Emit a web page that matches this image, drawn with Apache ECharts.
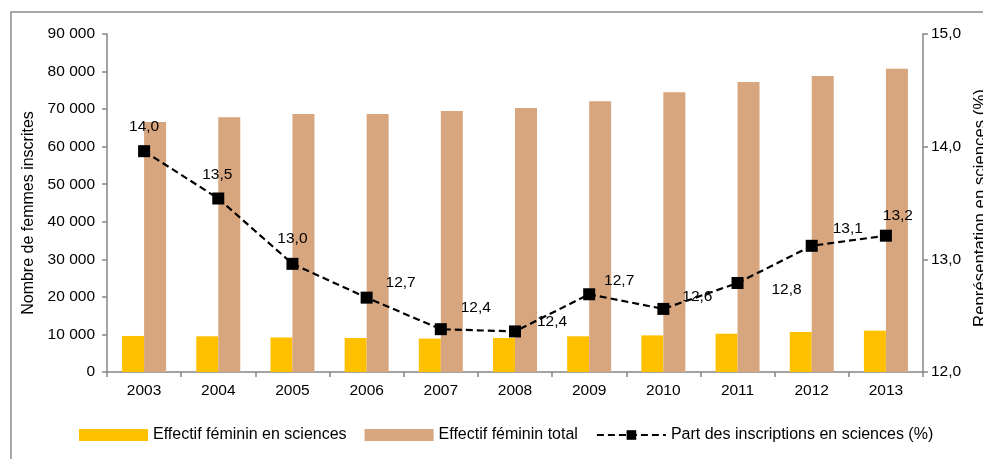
<!DOCTYPE html>
<html>
<head>
<meta charset="utf-8">
<script src="https://cdn.jsdelivr.net/npm/echarts@6/dist/echarts.min.js"></script>
<style>html,body{margin:0;padding:0;background:#fff;}#c{width:983px;height:459px;}</style>
</head>
<body>
<div id="c"></div>
<script>
var years = ['2003','2004','2005','2006','2007','2008','2009','2010','2011','2012','2013'];
var effectifSciences = [9600, 9500, 9200, 9050, 8900, 9050, 9500, 9750, 10200, 10650, 11000];
var effectifTotal = [66600, 67800, 68700, 68700, 69500, 70300, 72100, 74500, 77200, 78800, 80750];
var partSciences = [13.96, 13.54, 12.96, 12.66, 12.38, 12.36, 12.69, 12.56, 12.79, 13.12, 13.21];
var leftTicks = [0, 10000, 20000, 30000, 40000, 50000, 60000, 70000, 80000, 90000];
var rightTicks = [12, 13, 14, 15];

// label placement (style, kept separate from data)
var labelOffsets = [[0,-24],[-1,-24],[0,-25],[34,-15],[35,-21],[37,-10],[30,-14],[34,-12],[49,7],[36,-17],[12,-20]];

var FONT = 'Liberation Sans, Arial, sans-serif';
var FS = 15.5;

var chart = echarts.init(document.getElementById('c'), null, {renderer: 'canvas'});
var lineData = partSciences.map(function (v, i) {
  return { value: v, label: { offset: labelOffsets[i] } };
});

chart.setOption({
  backgroundColor: '#ffffff',
  animation: false,
  textStyle: { fontFamily: FONT },
  graphic: [{
    type: 'rect',
    shape: { x: 11, y: 12, width: 1200, height: 800 },
    style: { fill: 'none', stroke: '#8c8c8c', lineWidth: 1.5 },
    silent: true,
    z: -1
  }],
  grid: { left: 107, right: 60, top: 34, bottom: 87, containLabel: false, outerBoundsMode: 'none' },
  legend: {
    left: 74, top: 422,
    itemWidth: 69, itemHeight: 12, itemGap: 18,
    textStyle: { fontFamily: FONT, fontSize: 16, color: '#000' },
    data: [
      { name: 'Effectif féminin en sciences', icon: 'rect' },
      { name: 'Effectif féminin total', icon: 'rect' },
      { name: 'Part des inscriptions en sciences (%)' }
    ]
  },
  xAxis: {
    type: 'category',
    data: years,
    boundaryGap: true,
    axisLine: { lineStyle: { color: '#868686', width: 1.5 } },
    axisTick: { show: true, length: 5, lineStyle: { color: '#868686', width: 1.5 } },
    axisLabel: { color: '#000', fontFamily: FONT, fontSize: FS, margin: 11 },
    splitLine: { show: false }
  },
  yAxis: [{
    type: 'value',
    min: leftTicks[0], max: leftTicks[leftTicks.length - 1], interval: leftTicks[1] - leftTicks[0],
    position: 'left',
    name: 'Nombre de femmes inscrites',
    nameLocation: 'middle', nameRotate: 90, nameGap: 70,
    nameTextStyle: { color: '#000', fontFamily: FONT, fontSize: 16, padding: [0, 20, 0, 0] },
    axisLine: { show: true, lineStyle: { color: '#868686', width: 1.5 } },
    axisTick: { show: true, length: 5, lineStyle: { color: '#868686', width: 1.5 } },
    axisLabel: {
      color: '#000', fontFamily: FONT, fontSize: FS, margin: 12,
      formatter: function (v) { return String(v).replace(/\B(?=(\d{3})+(?!\d))/g, ' '); }
    },
    splitLine: { show: false }
  }, {
    type: 'value',
    min: rightTicks[0], max: rightTicks[rightTicks.length - 1], interval: 1,
    position: 'right',
    name: 'Représentation en sciences (%)',
    nameLocation: 'middle', nameRotate: 90, nameGap: 48,
    nameTextStyle: { color: '#000', fontFamily: FONT, fontSize: 16.8, padding: [0, 10, 0, 0] },
    axisLine: { show: true, lineStyle: { color: '#868686', width: 1.5 } },
    axisTick: { show: true, length: 5, lineStyle: { color: '#868686', width: 1.5 } },
    axisLabel: {
      color: '#000', fontFamily: FONT, fontSize: FS, margin: 8,
      formatter: function (v) { return v.toFixed(1).replace('.', ','); }
    },
    splitLine: { show: false }
  }],
  series: [{
    name: 'Effectif féminin en sciences',
    type: 'bar',
    yAxisIndex: 0,
    data: effectifSciences,
    barWidth: 22,
    barGap: '0%',
    itemStyle: { color: '#FFC000' }
  }, {
    name: 'Effectif féminin total',
    type: 'bar',
    yAxisIndex: 0,
    data: effectifTotal,
    barWidth: 22,
    barGap: '0%',
    itemStyle: { color: '#D8A67E' }
  }, {
    name: 'Part des inscriptions en sciences (%)',
    type: 'line',
    yAxisIndex: 1,
    data: lineData,
    symbol: 'rect',
    symbolSize: 12,
    itemStyle: { color: '#000' },
    lineStyle: { color: '#000', width: 2.2, type: [7, 4] },
    label: {
      show: true, position: 'inside', color: '#000',
      fontFamily: FONT, fontSize: FS,
      formatter: function (p) { return p.value.toFixed(1).replace('.', ','); }
    },
    z: 5
  }]
});
</script>
</body>
</html>
